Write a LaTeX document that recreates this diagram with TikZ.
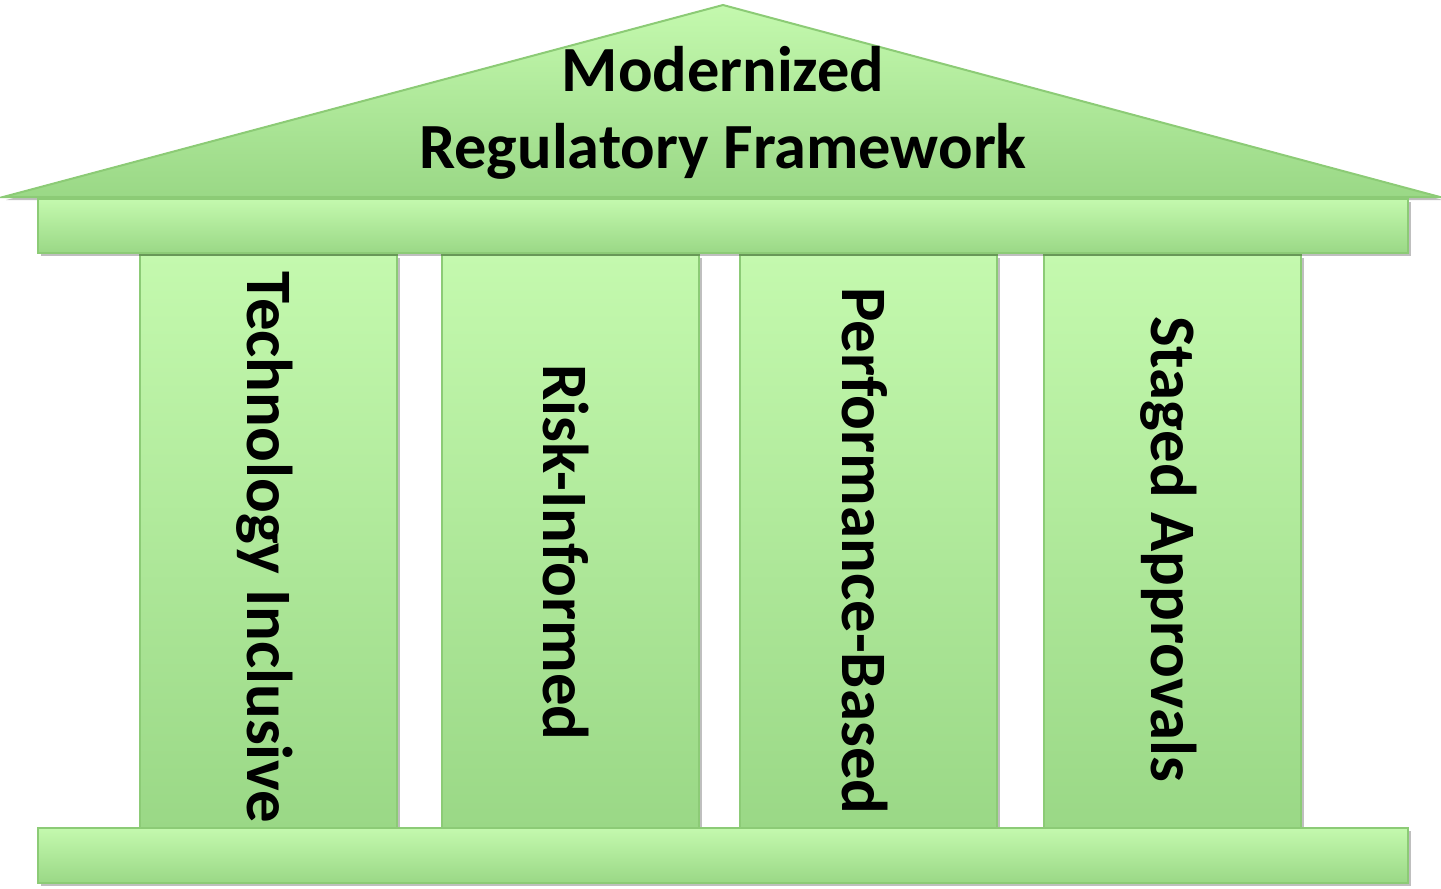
\documentclass[tikz,border=0pt]{standalone}
\usepackage{fontspec}
\setmainfont{Carlito}
\usetikzlibrary{shadows}
\definecolor{gtop}{HTML}{C4F9AE}
\definecolor{gbot}{HTML}{9AD886}
\definecolor{gline}{HTML}{8CCB76}
\tikzset{
  part/.style={draw=gline, line width=1pt, top color=gtop, bottom color=gbot,
    drop shadow={shadow xshift=1.5pt, shadow yshift=-1.5pt, opacity=0.25, fill=black}},
  pillar/.style={part, rectangle, minimum width=128.5pt, minimum height=287pt, inner sep=0pt},
  slab/.style={part, rectangle, minimum width=685pt, inner sep=0pt},
  ptext/.style={font=\bfseries\fontsize{32.4}{36}\selectfont, rotate=-90, inner sep=0pt},
  rtext/.style={font=\bfseries\fontsize{32.2}{38.5}\selectfont, align=center, inner sep=0pt},
}
\begin{document}
\begin{tikzpicture}[x=0.5pt,y=-0.5pt]
\useasboundingbox (0,0) rectangle (1441,889);
% pillars
\node[pillar] (c1) at (268.5,542) {};
\node[pillar] (c2) at (570,542) {};
\node[pillar] (c3) at (868,542) {};
\node[pillar] (c4) at (1172.5,542) {};
% roof
\draw[part] (3,197) -- (723,5) -- (1440,197) -- cycle;
% beam and base
\node[slab, minimum height=27pt] (beam) at (723,226) {};
\node[slab, minimum height=27.5pt] (base) at (723,855.5) {};
% texts
\node[rtext] (title) at (723,113) {Modernized\\Regulatory Framework};
\node[ptext] (t1) at (265,547.5) {Technology Inclusive};
\node[ptext] (t2) at (565.5,552.5) {Risk-Informed};
\node[ptext] (t3) at (865,551) {Performance-Based};
\node[ptext] (t4) at (1168.5,549) {Staged Approvals};
\end{tikzpicture}
\end{document}
